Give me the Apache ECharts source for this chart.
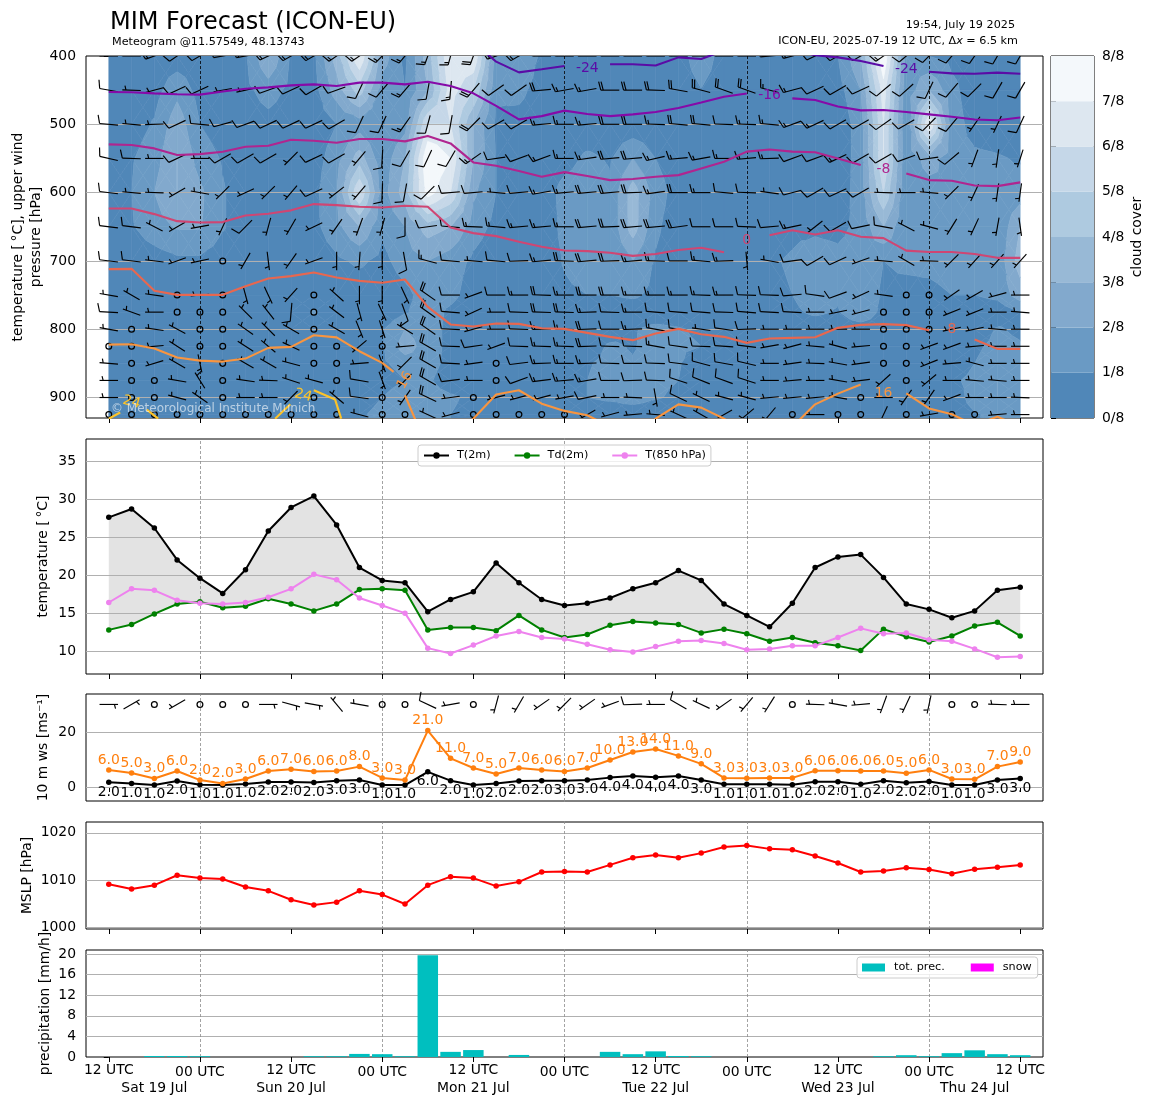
<!DOCTYPE html>
<html><head><meta charset="utf-8">
<style>html,body{margin:0;padding:0;background:#fff}#c{width:1155px;height:1105px}</style>
<script src="https://cdn.jsdelivr.net/npm/echarts@6/dist/echarts.min.js"></script>
</head><body><div id="c"></div>
<script>
const hours=[0,3,6,9,12,15,18,21,24,27,30,33,36,39,42,45,48,51,54,57,60,63,66,69,72,75,78,81,84,87,90,93,96,99,102,105,108,111,114,117,120];
const levels=[400,450,500,550,600,650,700,750,775,800,825,850,875,900,925];
const tickHours=[0,12,24,36,48,60,72,84,96,108,120];
const dayLines=[12,36,60,84,108];
const hours12=[0,24,48,72,96,120];
const hours00=[12,36,60,84,108];
const dateTicks=[6,24,48,72,96,114];
const dateLabels=['Sat 19 Jul','Sun 20 Jul','Mon 21 Jul','Tue 22 Jul','Wed 23 Jul','Thu 24 Jul'];
const cloudColors=['#5087b8','#6a9ac4','#82a9cd','#98b9d6','#aecae0','#c5d7e8','#dde7f0','#f4f8fb'];
const cloudTicks=[0,1,2,3,4,5,6,7,8];

// cloud cover in oktas, one list per pressure level
const c400=[.3,.3,.3,.4,.3,.4,.9,3,.9,.8,3.5,7,2.5,.8,3.5,7,7,1.5,2,.8,.3,.3,.3,.3,.3,.4,1.8,.4,.3,.3,.3,.3,1,3,8,1.5,1,.7,.4,.3,.3];
const c450=[.3,.3,.6,1.7,.6,.3,.7,1.5,.7,.6,2.5,4.5,1.5,1,3,6.5,5,1.2,1.3,.5,.3,.3,.3,.3,.3,.3,.95,.3,.3,.3,.3,.3,.6,2,6.5,1.3,3,1.3,.4,.3,.3];
const c500=[.3,.5,1.1,2.6,1,.4,.3,.6,.3,.3,1,1.5,.9,1.6,6,6,3,.8,.6,.3,.3,.3,.3,.3,.3,.3,.3,.3,.3,.3,.3,.3,.3,1.5,6,1.1,7,1.5,.6,.4,.3];
const c550=[.3,.9,1.6,3,1.6,.9,.3,.3,.3,.5,1.6,3.5,1.3,3,8,7,3,1,.4,.3,.6,1.2,.9,2,1,.4,.3,.3,.3,.3,.3,.3,.3,1.5,6,1.2,2.5,1.4,1.2,1.1,.9];
const c600=[.4,1,2,3,2.2,1.1,.4,.3,.3,.7,2,6,1.5,3.5,7.5,6,2.2,1,.4,.3,1.4,1.6,1.2,3.5,1.5,.5,.3,.3,.3,.3,.5,.4,.4,1.5,5,1.1,1.5,2,1.5,1.1,1.5];
const c650=[.4,.9,1.6,2.1,2.1,1.1,.4,.3,.3,.7,1.7,3,1.2,2,3.5,3,1.5,.7,.4,.3,1.3,1.7,1.2,3.5,1.2,.4,.3,.3,.4,.6,.8,.8,.7,1.3,3,1,1.3,1.5,1.5,1.1,3];
const c700=[.3,.3,.5,.8,.8,.4,.3,.3,.3,.3,.8,1.2,.7,1.5,2,1.5,.8,.3,.3,.3,1.1,1.5,1.1,2,.9,.3,.3,.3,.5,.9,1.1,1.5,1.3,1.6,1,1.2,1.3,1.5,1.5,1.3,3.5];
const c750=[.3,.3,.3,.3,.3,.3,.3,.3,.3,.3,.3,.3,.3,.7,1.5,1.3,.5,.3,.3,.3,.8,1,1,1.2,.7,.3,.3,.3,.3,.8,1,1.5,1.2,2,.8,.7,.7,1,1,1.3,2.5];
const c775=[.3,.3,.3,.3,.3,.3,.3,.3,.3,1.1,.3,.3,.3,.9,1.5,.8,.3,.3,.3,.3,.3,.3,.3,.3,.3,.3,.3,.3,.3,.3,.8,1.2,.9,2,.6,.3,.3,.3,.3,.3,1];
const c800=[.3,.3,.3,.3,.3,.3,.3,.3,.3,.3,.3,.3,.9,2,1.5,.7,.3,.3,.3,.3,.3,.3,.3,.9,1.3,1.1,.8,.3,.3,.3,.3,.3,.3,.3,.3,.3,.3,.3,.3,1.1,.8];
const c825=[.3,.3,.3,.3,.3,.3,.3,.3,.3,.3,.3,.3,.9,2.5,1.5,.7,.3,.3,.3,.3,.3,.3,1.2,.9,1.5,1.2,1,1,.3,.3,.3,.3,.3,.3,.3,.3,.3,.3,.8,1.3,1.1];
const c850=[.3,.3,.3,.3,.3,.3,.3,.3,.3,.3,.3,.3,.8,1.5,1.5,.6,.3,.3,.3,.3,.3,.9,1.3,1.1,1.3,1.1,.3,.3,.3,.3,.3,.3,.3,.3,.3,.3,.3,.3,1,1.5,1.1];
const c875=[.3,.3,.3,.3,.3,.3,.3,.3,.3,.3,.3,.3,.3,1,1.2,.3,.3,.3,.3,.3,.3,1,1.4,1.3,1.2,1,.3,.3,.3,.3,.3,.3,.3,.3,.3,.3,.3,.8,1.3,2,1.3];
const c900=[.3,.3,.3,.3,.3,.3,.3,.3,.3,.3,.3,.7,1,2,1.5,1.2,.7,.3,.3,.3,.3,1,1.2,1.5,1.1,.8,.3,.3,.3,.3,.3,.3,.3,.3,.3,.3,.3,.3,1.5,2,1.3];
const c925=[.3,.3,.3,.3,.3,.3,.3,.3,.3,.3,.3,.9,1.2,1.8,1.5,1,.6,.3,.3,.3,.3,.3,.3,.3,.3,.3,.3,.3,.3,.3,.3,.3,.3,.3,.3,.3,.3,.3,.9,1.3,1];

// wind direction (degrees from) and speed per level; speed 0 is calm
const d400=[270,270,250,235,240,260,260,245,240,240,235,235,225,220,200,195,200,250,240,270,270,270,270,270,270,270,270,270,270,265,255,245,240,240,235,230,225,220,215,210,210];
const s400=[10,10,15,10,10,10,15,15,15,15,15,15,15,15,15,15,20,15,15,20,20,20,20,20,20,20,20,20,20,15,15,10,10,10,15,10,10,10,10,10,10];
const d450=[280,272,255,245,245,260,258,250,245,240,250,205,220,220,190,185,220,235,235,265,260,260,270,270,272,280,285,290,290,285,255,245,240,245,230,228,205,220,225,210,210];
const s450=[10,5,5,10,10,5,5,10,10,10,10,10,10,15,10,15,20,10,10,20,15,15,20,20,20,20,20,20,20,15,15,10,10,10,10,10,10,10,10,10,10];
const d500=[275,275,268,245,275,255,250,245,245,245,240,205,205,215,195,190,225,240,240,265,270,265,270,270,272,275,275,272,272,275,250,245,240,240,235,240,225,220,215,205,205];
const s500=[10,5,5,10,10,10,10,10,10,10,10,10,10,15,10,10,20,10,10,15,15,15,20,20,15,20,20,10,15,15,15,15,10,10,10,10,10,10,5,5,10];
const d550=[283,272,270,245,270,240,240,240,225,245,240,220,183,210,205,210,235,262,250,250,270,262,265,265,257,265,260,270,265,268,250,250,245,240,240,250,262,230,200,188,198];
const s550=[10,10,5,10,5,10,10,10,5,10,10,5,10,10,10,10,15,10,10,15,15,15,20,20,15,15,15,15,15,15,10,10,15,10,10,10,10,10,5,5,5];
const d600=[277,275,272,240,280,225,245,225,220,245,232,220,182,190,225,265,265,275,265,260,265,265,265,268,262,270,270,275,272,278,255,240,245,240,272,270,275,225,205,188,188];
const s600=[10,5,5,5,5,5,5,5,5,10,5,5,10,10,10,10,10,5,10,15,15,20,20,20,15,20,15,10,10,5,10,10,10,10,5,5,5,5,5,5,5];
const d650=[277,277,297,240,260,205,225,195,210,245,215,200,195,180,262,275,272,275,265,265,270,265,268,265,265,262,270,270,272,265,258,232,240,258,280,298,285,212,205,190,172];
const s650=[10,10,5,5,5,5,10,5,5,5,5,5,5,10,10,10,15,15,15,15,15,20,20,20,20,20,10,10,10,10,15,5,10,10,10,5,5,5,5,5,5];
const d700=[277,277,277,250,258,0,210,173,215,250,180,184,180,170,285,275,275,275,268,265,272,265,268,265,272,270,275,268,175,280,262,240,245,250,275,300,272,225,222,222,222];
const s700=[10,10,5,5,5,0,5,5,5,5,5,5,5,10,15,10,5,10,10,15,20,20,20,15,15,10,15,15,5,5,10,10,10,5,5,5,5,5,5,5,5];
const d750=[280,300,278,0,265,0,165,155,222,0,312,180,180,155,305,270,250,270,270,272,270,270,270,270,270,270,272,270,272,272,265,278,250,245,278,0,0,235,240,255,270];
const s750=[5,5,5,0,5,0,5,5,5,0,5,5,5,5,20,10,5,10,15,20,15,20,20,15,15,15,15,15,10,10,10,10,10,5,5,0,0,5,5,5,5];
const d775=[273,290,270,0,0,0,315,322,185,0,307,165,155,160,305,275,245,270,272,272,272,268,272,270,275,275,275,272,275,273,273,270,258,255,0,0,0,248,248,270,275];
const s775=[10,5,5,0,0,0,5,5,10,0,5,5,5,10,20,10,5,5,10,20,20,15,10,15,10,10,10,10,10,10,10,5,5,5,0,0,0,5,5,5,5];
const d800=[280,0,278,298,0,0,305,315,300,0,300,158,162,302,305,273,255,270,272,268,272,268,270,268,280,278,278,278,268,270,270,270,270,270,0,0,0,258,258,275,270];
const s800=[5,0,5,5,0,0,5,5,5,0,5,5,5,5,20,10,5,5,10,15,15,20,10,15,15,10,5,10,10,5,5,5,5,5,0,0,0,5,5,5,5];
const d825=[0,0,265,303,0,0,303,310,295,0,0,230,0,265,300,272,262,250,272,272,272,268,272,272,280,278,272,274,277,260,255,275,285,265,0,0,250,250,265,270,270];
const s825=[0,0,5,5,0,0,5,5,5,0,0,5,0,5,20,10,10,5,10,15,15,20,10,10,15,10,10,10,10,5,5,5,5,5,0,0,5,5,5,5,5];
const d850=[275,0,253,300,168,0,300,300,285,0,0,265,160,225,300,273,262,0,263,268,270,268,272,270,272,277,285,280,283,270,262,272,280,262,0,0,248,265,285,270,270];
const s850=[5,0,5,5,5,0,5,5,5,0,0,5,5,5,20,10,5,0,10,15,15,15,10,10,10,10,10,10,10,5,5,5,5,5,0,0,5,5,5,5,5];
const d875=[270,0,0,280,328,0,278,272,288,285,0,280,160,225,300,263,270,0,250,263,265,260,270,268,272,288,292,290,288,270,265,270,280,263,228,0,230,270,275,275,270];
const s875=[5,0,0,5,5,0,5,5,5,5,0,10,5,5,20,10,5,0,10,15,15,15,10,10,10,10,10,10,10,5,5,5,5,5,5,0,5,5,5,5,5];
const d900=[270,0,0,285,305,0,270,270,225,0,310,278,0,215,295,262,0,255,255,255,260,258,270,272,170,295,295,285,285,265,265,265,280,0,270,215,215,250,270,270,272];
const s900=[5,0,0,5,5,0,5,5,5,0,5,10,0,5,20,5,0,5,5,5,5,10,5,5,5,10,5,5,5,5,5,5,5,0,5,5,5,5,5,5,5];
const d925=[0,0,0,0,0,0,0,0,0,0,0,285,0,0,295,255,0,0,0,0,0,240,255,265,275,295,300,240,230,220,0,270,0,0,205,0,260,0,0,265,270];
const s925=[0,0,0,0,0,0,0,0,0,0,0,5,0,0,5,5,0,0,0,0,0,5,5,5,5,5,5,5,5,5,0,5,0,0,5,0,5,0,0,5,5];

// isotherm pressure per time step, null where the line is broken or absent
const isoM24=[null,null,null,null,null,null,null,null,null,null,null,null,null,null,null,null,379,408.3,424,419.5,414.7,null,412,412,414,402,404.4,392,390,390,390,399,402,407.3,414.7,null,423,425.4,426,424.4,426];
const isoM16=[452.7,453,454.7,456,456.6,452,448,446,443,441.5,444,439,439,441.5,437.6,444,454.7,473,492.8,488,480,485,488,485.5,482,476,468,459.6,455,null,462,464.5,474,479.6,479,482,485.5,489,493,494,490];
const isoM8=[529.4,530.4,535.3,545,543.6,540.2,532.8,531.4,522.6,524,527,521.6,521.6,525,517.2,528,555.8,560.7,568.5,576.8,570,575.8,581.7,580,576.8,574.4,564.6,554.8,540,536.8,540,541,550,559.7,null,572,581.7,582.7,589.5,590.5,585];
const iso0=[623.2,623.2,631.5,641.8,643.7,643.2,633.5,631,626,616.8,618.3,620.8,621.7,619.3,620.8,651,659.3,663.7,672,679.4,684.7,685.7,688,692.6,690,684,680.8,687.2,null,662.3,655,661.3,655,664.7,666.7,685,687,687,690,695.5,695.5];
const iso8=[712,711.6,743.8,749.7,749.7,749.7,737,725.8,722.3,717,724.3,729.2,732,727.2,767.3,793,796,791.7,792.2,798.5,799.5,805.4,811.2,816,806.3,799.5,807.3,811.2,820,813.7,812.7,811.7,798,793.6,792.6,794,801.5,null,815,828.8,828.8];
const iso16=[822.5,822,828.3,841.5,846,847.4,843,827.3,825.9,808.8,812,832.2,849.3,null,null,977,931,895.7,889.4,909,919.6,926,943,962,931,910,914.8,931,953,962,943,910,894.3,881,null,894,916,924.5,940.6,928,943];
const iso16a=[[36,849.3],[37.5,862.5]];
const iso16b=[[39,896.7],[40.3,931],[42,992]];
const iso24a=[[0,931],[1.5,922]];
const iso24b=[[5,917.7],[6.5,931]];
const iso24c=[[21.9,931],[23.9,910]];
const iso24d=[[27,889.4],[29.8,903],[30.6,931]];
const isoColors=['#5a0ca6','#860aa8','#b0258f','#cf4673','#e8674f','#f89540','#fdc328'];
const isoLabelTexts=['-24','-24','-16','-8','0','8','16','16','24','24'];
const isoLabelHours=[63,105,87,102,84,111,102,39,3,25.6];
const isoLabelPress=[417.6,419,457,565.6,669.6,801,893.8,874.7,907,897];
const isoLabelColorIdx=[0,0,1,2,3,4,5,5,6,6];
const isoLabelRotate=[0,0,0,0,0,0,0,60,-15,-15];

const t2m=[27.6,28.7,26.2,22,19.6,17.6,20.7,25.8,28.9,30.4,26.6,21,19.3,19,15.2,16.8,17.8,21.6,19,16.8,16,16.3,17,18.2,19,20.6,19.3,16.2,14.7,13.2,16.3,21,22.4,22.7,19.7,16.2,15.5,14.4,15.3,18,18.4];
const td2m=[12.8,13.5,14.9,16.2,16.5,15.7,15.9,16.9,16.2,15.3,16.2,18.1,18.2,18,12.8,13.1,13.1,12.7,14.7,12.8,11.8,12.2,13.4,13.9,13.7,13.5,12.4,12.9,12.3,11.3,11.8,11.1,10.7,10.1,12.9,11.9,11.2,12,13.3,13.8,12];
const t850=[16.4,18.2,18,16.7,16.3,16.2,16.4,17.1,18.2,20.1,19.4,17,16,15,10.4,9.7,10.8,12,12.6,11.8,11.6,10.9,10.2,9.9,10.6,11.3,11.4,11,10.2,10.3,10.7,10.7,11.8,13,12.3,12.4,11.5,11.3,10.3,9.2,9.3];

const ws10=[1.7,1.3,.7,2.2,.8,.7,1.1,1.8,1.8,1.6,2.3,2.5,.7,.7,5.5,2.3,.7,1.3,2.2,2.3,2.3,2.5,3.4,4,3.5,4,2.5,1,1,1,.8,1.9,1.9,1,2.3,1.5,2,.7,.7,2.5,3.1];
const gust10=[6.2,5.1,3.1,5.8,2.5,1.3,2.9,5.8,6.4,5.6,5.8,7.4,3.3,2.5,20.5,10.4,6.9,4.7,6.9,6.2,5.6,6.9,9.8,12.7,13.8,11.3,8.4,3.3,3.2,3.3,3.3,5.9,5.9,5.8,5.8,5,6.2,2.9,2.8,7.4,9.1];
const wsLabels=[2,1,1,2,1,1,1,2,2,2,3,3,1,1,6,2,1,2,2,2,3,3,4,4,4,4,3,1,1,1,1,2,2,1,2,2,2,1,1,3,3];
const gustLabels=[6,5,3,6,2,2,3,6,7,6,6,8,3,3,21,11,7,5,7,6,6,7,10,13,14,11,9,3,3,3,3,6,6,6,6,5,6,3,3,7,9];
const dir10=[90,60,0,240,0,0,0,90,105,100,320,280,0,0,295,260,0,195,210,235,225,235,250,268,270,300,295,235,220,212,0,272,280,265,200,205,192,0,0,272,270];
const spd10=[5,5,0,5,0,0,0,5,5,5,5,5,0,0,10,5,0,5,5,5,5,5,5,10,5,10,5,5,5,5,0,5,5,5,5,5,5,0,0,5,5];

const mslp=[1009.1,1008.1,1008.9,1011,1010.4,1010.2,1008.5,1007.7,1005.8,1004.7,1005.3,1007.7,1006.9,1004.9,1008.9,1010.7,1010.4,1008.7,1009.6,1011.7,1011.8,1011.7,1013.2,1014.7,1015.3,1014.7,1015.7,1017,1017.3,1016.6,1016.4,1015.1,1013.6,1011.7,1011.9,1012.6,1012.2,1011.3,1012.3,1012.7,1013.2];
const precip=[0,0,.2,.2,.15,0,0,0,0,.15,.15,.6,.55,.15,19.8,1,1.35,0,.4,0,0,0,1,.55,1.1,.2,.15,0,0,0,0,0,0,0,.15,.35,.15,.75,1.3,.55,.35];
const snow=[];

const yTicks1=[400,500,600,700,800,900];
const yTicks2=[10,15,20,25,30,35];
const yTicks3=[0,20];
const yTicks4=[1000,1010,1020];
const yTicks5=[0,4,8,12,16,20];

const cloudRows=[c400,c450,c500,c550,c600,c650,c700,c750,c775,c800,c825,c850,c875,c900,c925];
const dirRows=[d400,d450,d500,d550,d600,d650,d700,d750,d775,d800,d825,d850,d875,d900,d925];
const spdRows=[s400,s450,s500,s550,s600,s650,s700,s750,s775,s800,s825,s850,s875,s900,s925];

const FONT='"DejaVu Sans"';
const FS=13.9;

// --- filled contour bands of the cloud field, computed in data space ---
const fieldP=levels.concat([930]);
const fieldV=cloudRows.concat([c925]);
function clipBand(poly,limit,keepAbove){
  const out=[];
  for(let i=0;i<poly.length;i++){
    const a=poly[i],b=poly[(i+1)%poly.length];
    const ia=keepAbove?a[2]>=limit:a[2]<=limit, ib=keepAbove?b[2]>=limit:b[2]<=limit;
    if(ia)out.push(a);
    if(ia!==ib){const f=(limit-a[2])/(b[2]-a[2]);out.push([a[0]+f*(b[0]-a[0]),a[1]+f*(b[1]-a[1]),limit]);}
  }
  return out;
}
const bandPolys=[];
function pushTri(tri){
  for(let b=0;b<cloudColors.length;b++){
    let p=clipBand(tri,b,true); if(p.length<3)continue;
    p=clipBand(p,b+1,false); if(p.length<3)continue;
    bandPolys.push({b,pts:p.map(q=>[q[0],q[1]])});
  }
}
for(let r=0;r<fieldP.length-1;r++){
  for(let i=0;i<hours.length-1;i++){
    const A=[hours[i],fieldP[r],fieldV[r][i]],B=[hours[i+1],fieldP[r],fieldV[r][i+1]],
          C=[hours[i+1],fieldP[r+1],fieldV[r+1][i+1]],D=[hours[i],fieldP[r+1],fieldV[r+1][i]];
    const bandOf=v=>Math.min(Math.floor(v),cloudColors.length-1);
    if(bandOf(A[2])===bandOf(B[2])&&bandOf(B[2])===bandOf(C[2])&&bandOf(C[2])===bandOf(D[2])){
      bandPolys.push({b:bandOf(A[2]),pts:[A,B,C,D].map(q=>[q[0],q[1]])});continue;
    }
    const M=[(A[0]+B[0])/2,(A[1]+D[1])/2,(A[2]+B[2]+C[2]+D[2])/4];
    pushTri([A,B,M]);pushTri([B,C,M]);pushTri([C,D,M]);pushTri([D,A,M]);
  }
}
function renderBand(params,api){
  const item=bandPolys[params.dataIndex];
  const col=cloudColors[item.b];
  return {type:'polygon',shape:{points:item.pts.map(q=>api.coord(q))},style:{fill:col,stroke:col,lineWidth:0.6}};
}

// --- wind barbs ---
const BL=18.5,BH=8.5,BW=4.4,BS=2.4;
function renderBarb(params,api){
  const t=api.value(0),y=api.value(1),d=api.value(2),s=api.value(3);
  const c=api.coord([t,y]);
  const st={stroke:'#000',lineWidth:1.15,fill:null};
  if(s<2.5) return {type:'circle',shape:{cx:c[0],cy:c[1],r:2.9},style:{stroke:'#000',lineWidth:1.25,fill:'none'}};
  const rad=d*Math.PI/180;
  const ex=Math.sin(rad),ey=-Math.cos(rad);
  const px=Math.cos(rad),py=Math.sin(rad);
  const tail=[c[0]+ex*BL/2,c[1]+ey*BL/2],head=[c[0]-ex*BL/2,c[1]-ey*BL/2];
  const kids=[{type:'line',shape:{x1:head[0],y1:head[1],x2:tail[0],y2:tail[1]},style:st}];
  const nFull=Math.floor(s/10),half=s%10>=5;
  let off=0;
  for(let k=0;k<nFull;k++){
    const bx=tail[0]-ex*off,by=tail[1]-ey*off;
    kids.push({type:'line',shape:{x1:bx,y1:by,x2:bx+px*BH+ex*BW/2,y2:by+py*BH+ey*BW/2},style:st});
    off+=BS;
  }
  if(half){
    if(nFull===0)off=BS*1.5;
    const bx=tail[0]-ex*off,by=tail[1]-ey*off;
    kids.push({type:'line',shape:{x1:bx,y1:by,x2:bx+px*BH/2+ex*BW/4,y2:by+py*BH/2+ey*BW/4},style:st});
  }
  return {type:'group',children:kids};
}
const barbData=[];
levels.forEach((lv,r)=>hours.forEach((h,i)=>barbData.push([h,lv,dirRows[r][i],spdRows[r][i]])));
const barb10Data=hours.map((h,i)=>[h,30,dir10[i],spd10[i]]);

// --- layout helpers ---
const gridTops=[56,439,694,822,950],gridHeights=[362,235,107,107,107];
const grids=gridTops.map((t,i)=>({left:86,width:957,top:t,height:gridHeights[i],show:true,borderColor:'#000',borderWidth:1,backgroundColor:'#fff',z:0,outerBoundsMode:'none'}));
grids.push({left:1051,width:43,top:56,height:362,show:true,borderColor:'#000',borderWidth:1,z:0,outerBoundsMode:'none'});

const tickStyle={show:true,length:5,lineStyle:{color:'#000',width:1},customValues:tickHours};
const xAxes=[0,1,2,3,4].map(g=>({type:'value',gridIndex:g,min:-3,max:123,position:'bottom',
  axisLine:{show:false},splitLine:{show:false},axisTick:tickStyle,axisLabel:{show:false}}));
function xLabelAxis(values,fmt,margin){
  return {type:'value',gridIndex:4,min:-3,max:123,position:'bottom',axisLine:{show:false},splitLine:{show:false},
    axisTick:{show:false},axisLabel:{show:true,customValues:values,formatter:fmt,margin,fontFamily:FONT,fontSize:FS,color:'#000'}};
}
xAxes.push(xLabelAxis(hours12,()=>'12 UTC',6));    //5
xAxes.push(xLabelAxis(hours00,()=>'00 UTC',8));    //6
xAxes.push(xLabelAxis(dateTicks,v=>dateLabels[dateTicks.indexOf(v)],24)); //7
xAxes.push({type:'value',gridIndex:5,min:0,max:1,show:false}); //8

function yAxisOf(g,min,max,ticks,name,gap,inv){
  return {type:'value',gridIndex:g,min,max,inverse:!!inv,position:'left',
    axisLine:{show:false},splitLine:{show:false},
    axisTick:{show:true,length:5,lineStyle:{color:'#000',width:1},customValues:ticks},
    axisLabel:{show:true,customValues:ticks,margin:10,padding:[4,0,0,0],fontFamily:FONT,fontSize:FS,color:'#000',formatter:v=>String(v)},
    name,nameLocation:'middle',nameGap:gap,nameRotate:90,nameMoveOverlap:false,
    nameTextStyle:{fontFamily:FONT,fontSize:FS,color:'#000',lineHeight:18}};
}
const yAxes=[
  yAxisOf(0,400,930,yTicks1,'temperature [\u2009\u00B0C], upper wind\npressure [hPa]',41,true),
  yAxisOf(1,7,37.9,yTicks2,'temperature [\u2009\u00B0C]',34),
  yAxisOf(2,-5.1,33.8,yTicks3,'10 m ws [ms\u207B\u00B9]',34),
  yAxisOf(3,999.6,1022.3,yTicks4,'MSLP [hPa]',50),
  yAxisOf(4,0,20.8,yTicks5,'precipitation [mm/h]',32),
  {type:'value',gridIndex:5,min:0,max:8,position:'right',axisLine:{show:false},splitLine:{show:false},
   axisTick:{show:true,length:5,lineStyle:{color:'#000',width:1},customValues:cloudTicks},
   axisLabel:{show:true,customValues:cloudTicks,margin:8,padding:[4,0,0,0],fontFamily:FONT,fontSize:FS,color:'#000',formatter:v=>v+'/8'},
   name:'cloud cover',nameLocation:'middle',nameGap:36,nameRotate:90,nameMoveOverlap:false,nameTextStyle:{fontFamily:FONT,fontSize:FS,color:'#000'}}
];

function guide(g,key,values,style,z){
  return {type:'line',xAxisIndex:g,yAxisIndex:g,data:[],silent:true,z,
    markLine:{silent:true,symbol:['none','none'],z,label:{show:false},animation:false,lineStyle:style,
      data:values.map(v=>({[key]:v}))}};
}
const hGrid={color:'#b0b0b0',width:1,type:'solid',opacity:1};
const vGrid={color:'#8c8c8c',width:0.8,type:[3,2],opacity:1};
const vGridDark={color:'#000',width:0.8,type:[3,2],opacity:1};

const withHours=a=>hours.map((h,i)=>[h,a[i]]);
const isoSeries=(data,ci)=>({type:'line',xAxisIndex:0,yAxisIndex:0,data,showSymbol:false,symbol:'none',silent:true,z:6,clip:true,connectNulls:false,
  lineStyle:{color:isoColors[ci],width:2.1}});
const series=[];

// panel 1
series.push({type:'custom',xAxisIndex:0,yAxisIndex:0,renderItem:renderBand,silent:true,z:1,data:bandPolys.map(()=>[0,400]),clip:true});
series.push(guide(0,'yAxis',yTicks1.slice(1),hGrid,2));
series.push(guide(0,'xAxis',dayLines,vGridDark,3));
series.push({type:'custom',xAxisIndex:0,yAxisIndex:0,renderItem:renderBarb,silent:true,z:4,data:barbData,clip:true,
  encode:{x:0,y:1}});
series.push(isoSeries(withHours(isoM24),0));
series.push(isoSeries(withHours(isoM16),1));
series.push(isoSeries(withHours(isoM8),2));
series.push(isoSeries(withHours(iso0),3));
series.push(isoSeries(withHours(iso8),4));
series.push(isoSeries(withHours(iso16),5));
series.push(isoSeries(iso16a,5));
series.push(isoSeries(iso16b,5));
[iso24a,iso24b,iso24c,iso24d].forEach(s=>series.push(isoSeries(s,6)));
series.push({type:'custom',xAxisIndex:0,yAxisIndex:0,silent:true,z:7,
  data:isoLabelTexts.map((t,i)=>[isoLabelHours[i],isoLabelPress[i]]),
  encode:{x:0,y:1},
  renderItem:(p,api)=>{
    const i=p.dataIndex,c=api.coord([api.value(0),api.value(1)]);
    return {type:'text',x:c[0],y:c[1],rotation:isoLabelRotate[i]*Math.PI/180,
      style:{text:isoLabelTexts[i],fill:isoColors[isoLabelColorIdx[i]],font:FS+'px '+FONT,align:'center',verticalAlign:'middle'}};
  }});

// panel 2
series.push({type:'custom',xAxisIndex:1,yAxisIndex:1,silent:true,z:1,data:[[0,10]],
  renderItem:(p,api)=>{
    const pts=hours.map((h,i)=>api.coord([h,t2m[i]])).concat(hours.map((h,i)=>api.coord([h,td2m[i]])).reverse());
    return {type:'polygon',shape:{points:pts},style:{fill:'#e3e3e3'}};
  }});
series.push(guide(1,'yAxis',yTicks2,hGrid,2));
series.push(guide(1,'xAxis',dayLines,vGrid,2));
const mkLine=(name,data,color,xi,extra)=>Object.assign({type:'line',name,xAxisIndex:xi,yAxisIndex:xi,data:withHours(data),symbol:'circle',symbolSize:5.5,showSymbol:true,showAllSymbol:true,silent:true,z:5,
  lineStyle:{color,width:2},itemStyle:{color}},extra||{});
series.push(mkLine('T(2m)',t2m,'#000000',1));
series.push(mkLine('Td(2m)',td2m,'#008000',1));
series.push(mkLine('T(850 hPa)',t850,'#ee82ee',1));

// panel 3
series.push(guide(2,'yAxis',yTicks3,hGrid,2));
series.push(guide(2,'xAxis',dayLines,vGrid,2));
series.push({type:'custom',xAxisIndex:2,yAxisIndex:2,renderItem:renderBarb,silent:true,z:4,data:barb10Data,encode:{x:0,y:1}});
series.push(mkLine('ws',ws10,'#000000',2,{z:5,label:{show:true,position:'bottom',distance:0,fontFamily:FONT,fontSize:FS,color:'#000',formatter:p=>wsLabels[p.dataIndex].toFixed(1)}}));
series.push(mkLine('gust',gust10,'#ff7f0e',2,{z:6,label:{show:true,position:'top',distance:0,fontFamily:FONT,fontSize:FS,color:'#ff7f0e',formatter:p=>gustLabels[p.dataIndex].toFixed(1)}}));

// panel 4
series.push(guide(3,'yAxis',yTicks4,hGrid,2));
series.push(guide(3,'xAxis',dayLines,vGrid,2));
series.push(mkLine('MSLP',mslp,'#ff0000',3));

// panel 5
series.push(guide(4,'yAxis',yTicks5.slice(1),hGrid,2));
series.push(guide(4,'xAxis',dayLines,vGrid,2));
series.push({type:'bar',name:'tot. prec.',xAxisIndex:4,yAxisIndex:4,data:withHours(precip),barWidth:20.5,barGap:'-100%',silent:true,z:5,itemStyle:{color:'#00bfbf'}});
series.push({type:'bar',name:'snow',xAxisIndex:4,yAxisIndex:4,data:snow,barWidth:20.5,barGap:'-100%',silent:true,z:5,itemStyle:{color:'#ff00ff'}});

// colour bar
series.push({type:'custom',xAxisIndex:8,yAxisIndex:5,silent:true,z:1,data:cloudColors.map((c,i)=>[0,i]),
  renderItem:(p,api)=>{
    const a=api.coord([0,p.dataIndex]),b=api.coord([1,p.dataIndex+1]);
    return {type:'rect',shape:{x:a[0],y:b[1],width:b[0]-a[0],height:a[1]-b[1]},style:{fill:cloudColors[p.dataIndex]}};
  }});

const legendBase={selectedMode:false,orient:'horizontal',borderColor:'#cccccc',borderWidth:1,borderRadius:3,backgroundColor:'rgba(255,255,255,0.8)',z:20};
const option={
  animation:false,
  backgroundColor:'#fff',
  title:[
    {text:'MIM Forecast (ICON-EU)',left:110,top:11,padding:0,textStyle:{fontFamily:FONT,fontSize:24,fontWeight:'normal',color:'#000'}},
    {text:'Meteogram @11.57549, 48.13743',left:112,top:37,padding:0,textStyle:{fontFamily:FONT,fontSize:11.2,fontWeight:'normal',color:'#000'}},
    {text:'19:54, July 19 2025',right:140,top:20,padding:0,textStyle:{fontFamily:FONT,fontSize:11.2,fontWeight:'normal',color:'#000'}},
    {text:'{a|ICON-EU, 2025-07-19 12 UTC, \u0394}{b|x}{a| = 6.5 km}',right:137,top:36,padding:0,
     textStyle:{fontWeight:'normal',rich:{a:{fontFamily:FONT,fontSize:11.2,fontWeight:'normal',color:'#000'},b:{fontFamily:FONT,fontSize:11.2,fontWeight:'normal',fontStyle:'italic',color:'#000'}}}},
    {text:'\u00A9 Meteorological Institute Munich',left:111,top:403,padding:0,z:15,textStyle:{fontFamily:FONT,fontSize:12,fontWeight:'normal',color:'rgba(255,255,255,0.6)'}}
  ],
  legend:[
    Object.assign({},legendBase,{data:['T(2m)','Td(2m)','T(850 hPa)'],left:418,top:445,padding:[5,5,5,5],itemGap:23,itemWidth:25,itemHeight:8,
      textStyle:{fontFamily:FONT,fontSize:11.2,color:'#000',padding:[0,0,0,3]}}),
    Object.assign({},legendBase,{data:[{name:'tot. prec.',icon:'rect'},{name:'snow',icon:'rect'}],left:857,top:957,padding:[5,6,5,5],itemGap:26,itemWidth:23,itemHeight:8,
      textStyle:{fontFamily:FONT,fontSize:11.2,color:'#000',padding:[0,0,0,4]}})
  ],
  grid:grids,
  xAxis:xAxes,
  yAxis:yAxes,
  series
};
const chart=echarts.init(document.getElementById('c'),null,{renderer:'canvas',width:1155,height:1105});
chart.setOption(option);
</script></body></html>
